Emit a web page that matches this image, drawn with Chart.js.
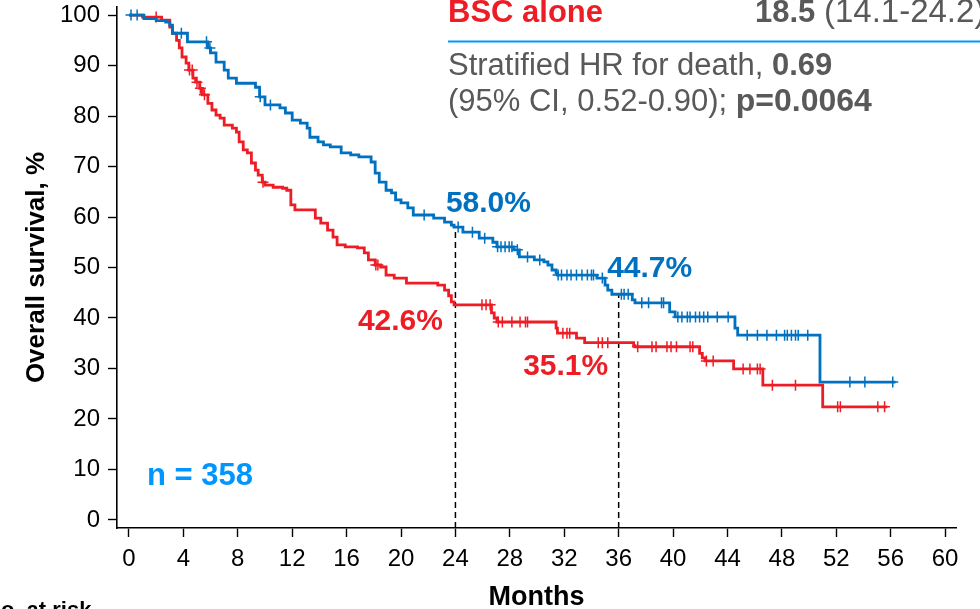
<!DOCTYPE html>
<html>
<head>
<meta charset="utf-8">
<script src="https://cdn.jsdelivr.net/npm/chart.js@4.4.1/dist/chart.umd.min.js"></script>
<style>
  html, body { margin: 0; padding: 0; background: #fff; overflow: hidden; }
  #wrap { width: 980px; height: 609px; position: relative; }
</style>
</head>
<body>
<div id="wrap"><canvas id="os-chart" width="980" height="609"></canvas></div>
<script>
// tick labels
const xTicks = [0, 4, 8, 12, 16, 20, 24, 28, 32, 36, 40, 44, 48, 52, 56, 60];
const yTicks = [0, 10, 20, 30, 40, 50, 60, 70, 80, 90, 100];

// treatment arm (blue) - KM steps: month of drop, survival after drop
const blueMonths = [0, 1.1, 2.0, 2.7, 3.0, 3.2, 4.3, 5.8, 6.0, 6.4, 7.0, 7.3, 7.9, 9.3, 9.6, 10.0,
  11.1, 11.5, 12.0, 12.6, 13.1, 13.3, 13.9, 14.3, 14.8, 15.6, 16.3, 16.9, 17.8, 18.1, 18.4, 18.9,
  19.3, 19.6, 20.0, 20.5, 20.9, 22.4, 23.2, 23.7, 23.9, 24.55, 25.75, 26.75, 27.05, 28.3, 28.7,
  29.8, 30.5, 30.8, 31.1, 31.4, 31.5, 34.4, 35.0, 35.2, 35.5, 37.0, 37.2, 39.75, 40.15, 44.55,
  44.75, 50.8, 56.35];
const blueSurv = [100, 99.3, 98.9, 98.6, 98.0, 96.4, 94.7, 93.5, 92.5, 90.7, 89.1, 87.5, 86.5, 85.7, 83.8, 82.2,
  81.6, 80.6, 79.2, 78.6, 77.6, 75.8, 74.9, 74.3, 73.9, 72.7, 72.3, 71.9, 70.9, 68.7, 66.9, 65.3,
  64.8, 63.4, 62.8, 61.8, 60.4, 59.8, 59.0, 58.4, 58.0, 57.0, 55.8, 55.0, 54.1, 53.5, 52.1,
  51.5, 51.1, 50.5, 49.5, 48.9, 48.5, 47.9, 46.5, 45.5, 44.7, 43.6, 43.0, 41.2, 40.2, 38.0,
  36.6, 27.3, 27.3];
const blueCensored = [0.15, 0.6, 3.85, 5.7, 5.95, 9.65, 10.4, 21.7, 24.2, 25.25, 26.15, 27.1, 27.35,
  27.65, 27.95, 28.15, 28.55, 29.3, 30.2, 31.55, 31.8, 32.2, 32.5, 32.9, 33.3, 33.7, 34.0, 34.15,
  34.8, 36.2, 36.4, 36.7, 37.7, 38.2, 39.15, 39.3, 40.35, 40.65, 41.05, 41.25, 41.65, 41.95, 42.25,
  42.55, 43.25, 44.05, 45.45, 46.2, 46.9, 47.6, 48.2, 48.4, 48.7, 49.0, 49.2, 49.9, 53.0, 54.1, 56.15];

// BSC alone (red)
const redMonths = [0, 1.0, 2.4, 3.0, 3.2, 3.5, 3.7, 3.9, 4.2, 4.4, 4.7, 4.9, 5.2, 5.4, 5.8, 6.1,
  6.4, 6.7, 7.0, 7.6, 7.9, 8.1, 8.4, 8.7, 9.0, 9.3, 9.5, 9.8, 10.0, 10.6, 11.3, 11.6, 11.9,
  12.2, 13.7, 14.1, 14.6, 15.0, 15.3, 15.9, 16.8, 17.3, 17.6, 18.1, 18.5, 18.9, 19.5, 20.4,
  22.7, 23.2, 23.5, 23.7, 23.9, 26.65, 26.85, 27.05, 31.4, 31.5, 32.9, 33.5, 37.1, 37.2,
  41.95, 42.15, 42.35, 44.45, 46.6, 51.0, 55.75];
const redSurv = [100, 99.6, 99.0, 97.6, 96.4, 95.0, 93.5, 91.7, 90.5, 89.1, 87.5, 86.7, 85.5, 84.2, 82.5, 81.2,
  80.2, 79.6, 78.2, 77.6, 76.8, 74.9, 73.3, 72.7, 70.7, 69.3, 68.3, 66.9, 66.3, 65.9, 65.7, 65.3, 62.4,
  61.4, 59.8, 58.8, 57.4, 56.0, 54.5, 54.1, 53.9, 52.9, 51.5, 50.5, 50.1, 48.5, 47.9, 46.9,
  46.5, 45.5, 44.4, 43.2, 42.6, 41.0, 40.0, 39.2, 38.0, 37.0, 36.0, 35.1, 34.5, 34.3,
  33.0, 32.1, 31.5, 29.9, 26.7, 22.4, 22.4];
const redCensored = [2.0, 4.45, 4.65, 5.0, 5.25, 5.55, 9.85, 18.15, 18.3, 25.95, 26.25, 26.55, 27.15,
  27.45, 28.15, 28.75, 29.15, 29.3, 31.9, 32.2, 32.4, 34.5, 34.8, 35.2, 37.4, 38.45, 38.75, 39.55,
  39.85, 40.25, 41.25, 41.45, 42.45, 42.95, 45.15, 45.65, 46.2, 46.4, 47.3, 49.0, 52.1, 52.3,
  55.05, 55.55];

// landmark time points
const landmarks = [24, 36];

const BLUE = '#0070C0';
const RED = '#EE1C25';
const GREY = '#595959';
const LIGHT_BLUE = '#0096FF';
const FONT = "'Liberation Sans', Arial, sans-serif";
const Y_MIN = -1.6, Y_MAX = 101.6;

function stepAt(months, surv, t) {
  let v = surv[0];
  for (let i = 0; i < months.length; i++) {
    if (months[i] <= t) v = surv[i];
  }
  return v;
}
function curve(months, surv) {
  return months.map((m, i) => ({ x: m, y: surv[i] }));
}
function marks(months, surv, censored) {
  return censored.map(t => ({ x: t, y: stepAt(months, surv, t) }));
}

const dashed = landmarks.map(t => ({
  type: 'line',
  data: [{ x: t, y: Y_MIN }, { x: t, y: stepAt(blueMonths, blueSurv, t) }],
  borderColor: '#000',
  borderWidth: 1.5,
  borderDash: [6, 4],
  pointRadius: 0
}));

// text drawn on top of the chart
const textPlugin = {
  id: 'texts',
  afterDraw(chart) {
    const ctx = chart.ctx;
    const xs = chart.scales.x, ys = chart.scales.y;
    ctx.save();
    ctx.textAlign = 'center';
    ctx.textBaseline = 'middle';
    ctx.font = 'bold 30px ' + FONT;
    ctx.fillStyle = BLUE;
    ctx.fillText(stepAt(blueMonths, blueSurv, 24).toFixed(1) + '%', xs.getPixelForValue(24) + 33, ys.getPixelForValue(58) - 23);
    ctx.fillText(stepAt(blueMonths, blueSurv, 36).toFixed(1) + '%', xs.getPixelForValue(36) + 31, ys.getPixelForValue(44.7) - 26);
    ctx.fillStyle = RED;
    ctx.fillText(stepAt(redMonths, redSurv, 24).toFixed(1) + '%', xs.getPixelForValue(24) - 55, ys.getPixelForValue(42.6) + 17);
    ctx.fillText(stepAt(redMonths, redSurv, 36).toFixed(1) + '%', xs.getPixelForValue(36) - 53, ys.getPixelForValue(35.1) + 24);
    ctx.font = 'bold 31px ' + FONT;
    ctx.fillStyle = LIGHT_BLUE;
    ctx.fillText('n = 358', 200, 476);

    // header block (top right, cut by the frame)
    ctx.textAlign = 'left';
    ctx.textBaseline = 'alphabetic';
    ctx.font = 'bold 31px ' + FONT;
    ctx.fillStyle = RED;
    ctx.fillText('BSC alone', 448, 22);
    ctx.fillStyle = GREY;
    ctx.fillText('18.5', 755, 22);
    let w = ctx.measureText('18.5 ').width;
    ctx.font = '33px ' + FONT;
    ctx.fillText('(14.1-24.2)', 755 + w, 22);

    ctx.strokeStyle = LIGHT_BLUE;
    ctx.lineWidth = 2;
    ctx.beginPath();
    ctx.moveTo(448, 41.5);
    ctx.lineTo(980, 41.5);
    ctx.stroke();

    ctx.font = '31px ' + FONT;
    let s = 'Stratified HR for death, ';
    ctx.fillText(s, 448, 75);
    w = ctx.measureText(s).width;
    ctx.font = 'bold 31px ' + FONT;
    ctx.fillText('0.69', 448 + w, 75);
    ctx.font = '31px ' + FONT;
    s = '(95% CI, 0.52-0.90); ';
    ctx.fillText(s, 448, 111);
    w = ctx.measureText(s).width;
    ctx.font = 'bold 32px ' + FONT;
    ctx.fillText('p=0.0064', 448 + w, 111);

    ctx.fillStyle = '#000';
    ctx.font = 'bold 22px ' + FONT;
    ctx.fillText('No. at risk', -15, 617);
    ctx.restore();
  }
};

new Chart(document.getElementById('os-chart'), {
  type: 'line',
  data: {
    datasets: [
      {
        label: 'Treatment',
        data: curve(blueMonths, blueSurv),
        borderColor: BLUE,
        borderWidth: 2.8,
        stepped: 'before',
        pointRadius: 0
      },
      {
        label: 'BSC alone',
        data: curve(redMonths, redSurv),
        borderColor: RED,
        borderWidth: 2.8,
        stepped: 'before',
        pointRadius: 0
      },
      {
        label: 'Treatment censored',
        data: marks(blueMonths, blueSurv, blueCensored),
        showLine: false,
        pointStyle: 'cross',
        pointRadius: 5.5,
        pointBorderWidth: 1.5,
        pointBorderColor: BLUE
      },
      {
        label: 'BSC censored',
        data: marks(redMonths, redSurv, redCensored),
        showLine: false,
        pointStyle: 'cross',
        pointRadius: 5.5,
        pointBorderWidth: 1.5,
        pointBorderColor: RED
      },
      ...dashed
    ]
  },
  options: {
    responsive: false,
    animation: false,
    devicePixelRatio: 1,
    layout: { padding: { left: 0, right: 24, top: 7, bottom: 0 } },
    plugins: { legend: { display: false }, tooltip: { enabled: false } },
    scales: {
      x: {
        type: 'linear',
        min: -0.88,
        max: 60.8,
        border: { color: '#000', width: 1.6 },
        grid: { drawOnChartArea: false, tickLength: 9, tickColor: '#000', tickWidth: 1.4 },
        ticks: { color: '#000', font: { size: 24, family: FONT }, padding: 8, maxRotation: 0, autoSkip: false },
        title: { display: true, text: 'Months', color: '#000', font: { size: 27, weight: 'bold', family: FONT, lineHeight: 1 }, padding: { top: 0, bottom: -2 } },
        afterBuildTicks: s => { s.ticks = xTicks.map(v => ({ value: v })); },
        afterFit: s => { s.height = 81; s.paddingLeft = 0; s.paddingRight = 0; }
      },
      y: {
        min: Y_MIN,
        max: Y_MAX,
        border: { color: '#000', width: 1.6 },
        grid: { drawOnChartArea: false, tickLength: 9, tickColor: '#000', tickWidth: 1.4 },
        ticks: { color: '#000', font: { size: 24, family: FONT }, padding: 8 },
        title: { display: true, text: 'Overall survival, %', color: '#000', font: { size: 26, weight: 'bold', family: FONT, lineHeight: 1 }, padding: { top: 24, bottom: 0 } },
        afterBuildTicks: s => { s.ticks = yTicks.map(v => ({ value: v })); },
        afterFit: s => { s.width = 117; s.paddingTop = 0; s.paddingBottom = 0; }
      }
    }
  },
  plugins: [textPlugin]
});
</script>
</body>
</html>
